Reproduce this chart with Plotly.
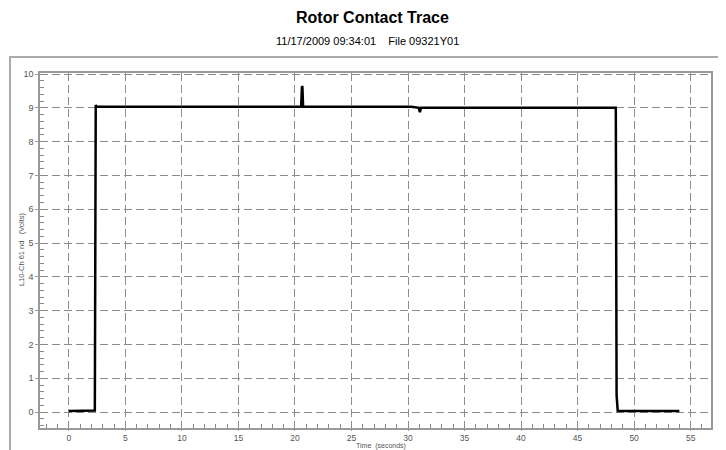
import plotly.graph_objects as go

# Data
time_s = [0.0, 2.3, 2.38, 2.45, 10.0, 20.55, 20.62, 20.66, 20.72, 30.3, 30.95, 31.05, 31.15, 40.0, 48.38, 48.45, 48.55, 54.0]
volts = [0.03, 0.05, 9.08, 9.03, 9.03, 9.03, 9.64, 9.62, 9.03, 9.03, 9.0, 8.87, 9.0, 9.0, 9.0, 0.5, 0.03, 0.03]

x_ticks = [0, 5, 10, 15, 20, 25, 30, 35, 40, 45, 50, 55]
y_ticks = [0, 1, 2, 3, 4, 5, 6, 7, 8, 9, 10]

title_text = "<b>Rotor Contact Trace</b>"
subtitle_text = "11/17/2009 09:34:01    File 09321Y01"
x_title = "Time  (seconds)"
y_title = "L10-Ch 61 nd   (Volts)"

W, H = 726, 450
OFF = 8  # page body margin
# desired page-pixel plot box: left 40, right 711, top 73, bottom 428
L = 40 - OFF
T = 73 - OFF
R = W - (711 - OFF)
B = H - (428 - OFF)

fig = go.Figure()
fig.add_trace(go.Scatter(x=time_s, y=volts, mode="lines",
                         line=dict(color="black", width=2.5), showlegend=False,
                         hoverinfo="skip"))

axis_font = dict(family="Arial, Liberation Sans, sans-serif", size=9, color="#555")
grid_kw = dict(showgrid=True, gridcolor="#8c8c8c", griddash="8px,4px", gridwidth=1.3)
fig.update_xaxes(
    range=[-2.55, 56.8], tickvals=x_ticks, ticktext=[str(v) for v in x_ticks],
    showline=True, linecolor="#999", linewidth=1.5, mirror=True,
    ticks="outside", ticklen=1, tickcolor="#999",
    tickfont=dict(family="Arial, Liberation Sans, sans-serif", size=8.5, color="#555"),
    minor=dict(ticks="inside", ticklen=4, dtick=1, tick0=0, tickcolor="#888", showgrid=False),
    zeroline=False, automargin=False,
    **grid_kw,
)
fig.update_yaxes(
    range=[-0.47, 10.03], tickvals=y_ticks, ticktext=[str(v) for v in y_ticks],
    showline=True, linecolor="#999", linewidth=1.5, mirror=True,
    ticks="outside", ticklen=3, tickcolor="#999", tickfont=axis_font,
    minor=dict(ticks="inside", ticklen=4, dtick=0.2, tick0=0, tickcolor="#888", showgrid=False),
    zeroline=False, automargin=False,
    **grid_kw,
)

pw = W - L - R
ph = H - T - B
def px_x(p):  # page pixel -> paper
    return (p - OFF - L) / pw
def px_y(p):
    return (H - B - (p - OFF)) / ph

# outer frame around the chart area
fig.add_shape(type="rect", xref="paper", yref="paper",
              x0=px_x(10), x1=px_x(721), y0=px_y(470), y1=px_y(57),
              line=dict(color="#aaa", width=2), fillcolor="rgba(0,0,0,0)", layer="below")

small_font = dict(family="Arial, Liberation Sans, sans-serif", size=7.5, color="#555")
fig.update_layout(
    width=W, height=H,
    margin=dict(l=L, r=R, t=T, b=B, autoexpand=False),
    paper_bgcolor="white", plot_bgcolor="white",
    annotations=[
        dict(text=title_text, xref="paper", yref="paper",
             x=px_x(372), y=px_y(18), xanchor="center", yanchor="middle", showarrow=False,
             font=dict(family="Arial, Liberation Sans, sans-serif", size=16, color="black")),
        dict(text=subtitle_text, xref="paper", yref="paper",
             x=px_x(367), y=px_y(41), xanchor="center", yanchor="middle",
             showarrow=False,
             font=dict(family="Arial, Liberation Sans, sans-serif", size=11, color="black")),
        dict(text=x_title, xref="paper", yref="paper",
             x=px_x(381), y=px_y(446), xanchor="center", yanchor="middle",
             showarrow=False,
             font=dict(family="Arial, Liberation Sans, sans-serif", size=7, color="#555")),
        dict(text=y_title, xref="paper", yref="paper", textangle=-90,
             x=px_x(21), y=px_y(250), xanchor="center", yanchor="middle",
             showarrow=False, font=small_font),
    ],
)

fig.write_html("out.html")
